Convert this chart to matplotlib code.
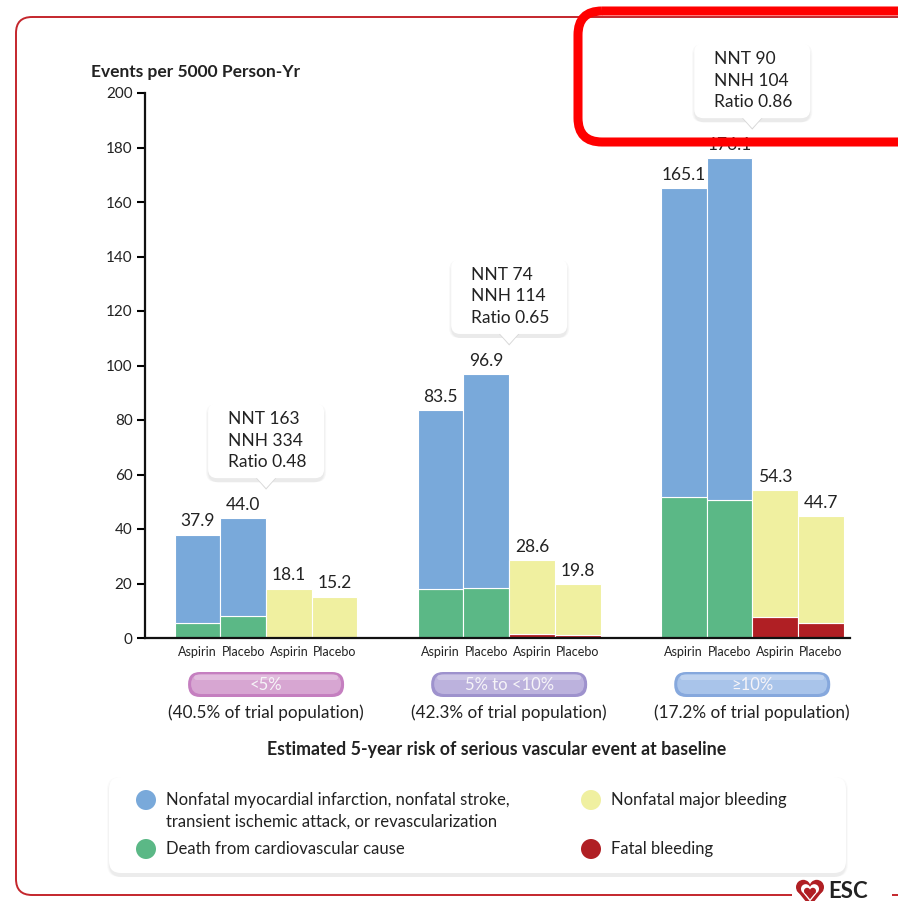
import matplotlib.pyplot as plt
from matplotlib.patches import FancyBboxPatch, Polygon, Circle, Rectangle

plt.rcParams['font.family'] = ['Lato', 'DejaVu Sans']

# risk groups and their share of the trial population
groups = ['<5%', '5% to <10%', '\u226510%']
population = ['(40.5% of trial population)', '(42.3% of trial population)',
              '(17.2% of trial population)']
arms = ['Aspirin', 'Placebo', 'Aspirin', 'Placebo']

# efficacy bars: death from CV cause (bottom) + nonfatal events, totals on top
cv_death_aspirin = [5.5, 18.0, 51.7]
cv_death_placebo = [7.9, 18.3, 50.6]
efficacy_aspirin = [37.9, 83.5, 165.1]
efficacy_placebo = [44.0, 96.9, 176.1]

# safety bars: fatal bleeding (bottom) + nonfatal major bleeding, totals on top
fatal_bleed_aspirin = [0.0, 1.3, 7.8]
fatal_bleed_placebo = [0.0, 1.2, 5.6]
bleeding_aspirin = [18.1, 28.6, 54.3]
bleeding_placebo = [15.2, 19.8, 44.7]

nnt = [163, 74, 90]
nnh = [334, 114, 104]
ratio = [0.48, 0.65, 0.86]

C_BLUE = '#79a9da'
C_GREEN = '#5bb886'
C_YELLOW = '#f0f0a0'
C_RED = '#b01f24'
C_FRAME = '#c4262c'
TXT = '#222222'

W, H = 898, 901
fig = plt.figure(figsize=(W / 100, H / 100), dpi=100)

# pixel-space layers behind and in front of the chart
bg = fig.add_axes([0, 0, 1, 1], zorder=0)
fg = fig.add_axes([0, 0, 1, 1], zorder=2)
for o in (bg, fg):
    o.set_xlim(0, W)
    o.set_ylim(H, 0)
    o.axis('off')
    o.patch.set_alpha(0)

ax = fig.add_axes([145 / W, 1 - 638 / H, (850 - 145) / W, (638 - 93) / H], zorder=1)
ax.patch.set_alpha(0)


def to_px(x, y):
    dx, dy = ax.transData.transform((x, y))
    return dx, H - dy


def rbox(layer, x0, y0, w, h, r, **kw):
    p = FancyBboxPatch((x0 + r, y0 + r), w - 2 * r, h - 2 * r,
                       boxstyle=f'round,pad={r}', **kw)
    layer.add_patch(p)
    return p


def heart(layer, cx, cy, s, color):
    # two lobes and a point, s = half width
    r = s * 0.52
    layer.add_patch(Circle((cx - s + r, cy - s * 0.35), r, facecolor=color, edgecolor='none'))
    layer.add_patch(Circle((cx + s - r, cy - s * 0.35), r, facecolor=color, edgecolor='none'))
    layer.add_patch(Polygon([(cx - s * 0.97, cy - s * 0.15), (cx + s * 0.97, cy - s * 0.15),
                             (cx, cy + s * 1.05)], closed=True, facecolor=color,
                            edgecolor='none'))


# bars
step = 5.32
first = 1.15
ax.set_xlim(0, 15.43)
ax.set_ylim(0, 200)

for g in range(3):
    x = [first + g * step + j for j in range(4)]
    bottoms = [cv_death_aspirin[g], cv_death_placebo[g],
               fatal_bleed_aspirin[g], fatal_bleed_placebo[g]]
    tops = [efficacy_aspirin[g], efficacy_placebo[g],
            bleeding_aspirin[g], bleeding_placebo[g]]
    low_c = [C_GREEN, C_GREEN, C_RED, C_RED]
    high_c = [C_BLUE, C_BLUE, C_YELLOW, C_YELLOW]
    for j in range(4):
        ax.bar(x[j], bottoms[j], width=1.0, color=low_c[j],
               edgecolor='white', linewidth=0.8)
        ax.bar(x[j], tops[j] - bottoms[j], bottom=bottoms[j], width=1.0,
               color=high_c[j], edgecolor='white', linewidth=0.8)
        ax.annotate(f'{tops[j]:.1f}', (x[j], tops[j]), xytext=(0, 6),
                    textcoords='offset points', ha='center', va='baseline',
                    fontsize=12.5, color=TXT)

ax.set_xticks([first + g * step + j for g in range(3) for j in range(4)])
ax.set_xticklabels(arms * 3, fontsize=9, color=TXT)
ax.tick_params(axis='x', length=0, pad=6)
ax.set_yticks(range(0, 201, 20))
ax.tick_params(axis='y', length=6, width=1.5, labelsize=11,
               labelcolor=TXT, pad=3)
for s in ('top', 'right'):
    ax.spines[s].set_visible(False)
for s in ('left', 'bottom'):
    ax.spines[s].set_linewidth(1.6)
    ax.spines[s].set_color('#111111')

fig.text(91 / W, 1 - 72 / H, 'Events per 5000 Person-Yr', fontsize=12.5,
         fontweight='bold', color=TXT, ha='left', va='center')

# outer frame with ESC mark
rbox(bg, 16, 17, 940, 878, 16, facecolor='none', edgecolor=C_FRAME, lw=1.4)
bg.add_patch(Rectangle((792, 885), 100, 20, facecolor='white', edgecolor='none'))
heart(bg, 810, 892, 14, C_RED)
heart(bg, 810, 892, 9, 'white')
heart(bg, 810, 893, 6, C_RED)
bg.text(828, 891, 'ESC', fontsize=16, fontweight='bold', color=TXT,
        ha='left', va='center')

# tooltips with NNT / NNH
for g in range(3):
    cx, tip = to_px(first + g * step + 1.5, efficacy_placebo[g] + 11)
    bw, bh = 116, 75
    x0, y0 = cx - bw / 2, tip - 10 - bh
    for k, a in enumerate([0.05, 0.05, 0.06]):
        rbox(fg, x0 - 2 + k, y0 + 1 + k, bw + 4 - 2 * k, bh + 3 - k, 10,
             facecolor='#7a7a7a', edgecolor='none', alpha=a)
    fg.add_patch(Polygon([(cx - 11, tip - 11), (cx + 11, tip - 11),
                          (cx, tip + 1.5)], closed=True, facecolor='#d8d8d8',
                         edgecolor='none'))
    rbox(fg, x0, y0, bw, bh, 9, facecolor='white', edgecolor='none')
    fg.add_patch(Polygon([(cx - 10, tip - 11), (cx + 10, tip - 11),
                          (cx, tip)], closed=True, facecolor='white',
                         edgecolor='none'))
    fg.text(x0 + 20, y0 + bh / 2, f'NNT {nnt[g]}\nNNH {nnh[g]}\nRatio {ratio[g]:.2f}',
            ha='left', va='center', fontsize=12.5, color=TXT,
            linespacing=1.4)

# risk-group pills and population shares
pill_style = [('#c57fc0', '#d7a6d2'), ('#9e92cd', '#bcb2dd'),
              ('#86a8dd', '#a9c4ea')]
for g in range(3):
    cx, _ = to_px(first + g * step + 1.5, 0)
    pw, ph = 156, 25
    edge, fill = pill_style[g]
    rbox(bg, cx - pw / 2, 672, pw, ph, 12, facecolor=edge, edgecolor='none')
    rbox(bg, cx - pw / 2 + 3, 674, pw - 6, ph - 5, 10, facecolor=fill,
         edgecolor='none')
    rbox(bg, cx - pw / 2 + 6, 675, pw - 12, 5, 2.5, facecolor='white',
         edgecolor='none', alpha=0.25)
    bg.text(cx, 685, groups[g], ha='center', va='center', fontsize=12,
            color='#f6f4f8')
    bg.text(cx, 713, population[g], ha='center', va='center', fontsize=12.3,
            color=TXT)

bg.text(497, 749, 'Estimated 5-year risk of serious vascular event at baseline',
        ha='center', va='center', fontsize=12.8, fontweight='bold', color=TXT)

# legend panel
for k, a in enumerate([0.04, 0.05, 0.06]):
    rbox(bg, 107 + k, 777 + k, 741 - 2 * k, 100 - k, 13, facecolor='#808080',
         edgecolor='none', alpha=a)
rbox(bg, 109, 777, 737, 96, 12, facecolor='white', edgecolor='none')
legend_items = [
    (146, 800, C_BLUE, ['Nonfatal myocardial infarction, nonfatal stroke,',
                        'transient ischemic attack, or revascularization']),
    (146, 849, C_GREEN, ['Death from cardiovascular cause']),
    (591, 800, C_YELLOW, ['Nonfatal major bleeding']),
    (591, 849, C_RED, ['Fatal bleeding']),
]
for x, y, c, lines in legend_items:
    bg.add_patch(Circle((x, y), 10, facecolor=c, edgecolor='none'))
    for i, line in enumerate(lines):
        bg.text(x + 20, y + 22 * i, line, ha='left', va='center',
                fontsize=12, color=TXT)

# highlight around the top-right tooltip
rbox(fg, 578, 11, 360, 131, 24, facecolor='none', edgecolor='#ff0000', lw=6.5)

fig.savefig('out.png', dpi=100)
